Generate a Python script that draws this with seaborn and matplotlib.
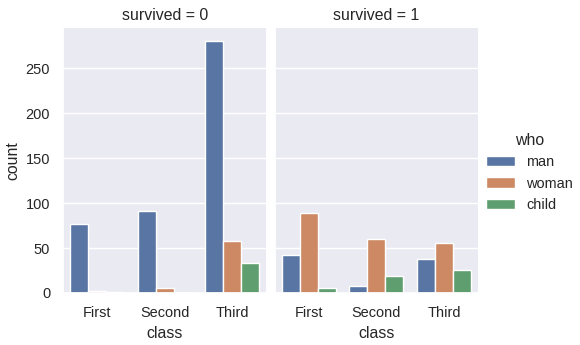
import matplotlib
matplotlib.use("Agg")
import seaborn as sns
import pandas as pd
import matplotlib.pyplot as plt

classes = ["First", "Second", "Third"]
who = ["man", "woman", "child"]
survived_vals = [0, 1]
counts_0 = {"man": [77, 91, 281], "woman": [2, 6, 58], "child": [1, 0, 33]}
counts_1 = {"man": [42, 8, 38], "woman": [89, 60, 56], "child": [5, 19, 25]}

rows = []
for s, counts in zip(survived_vals, [counts_0, counts_1]):
    for w in who:
        for c, v in zip(classes, counts[w]):
            rows.append({"survived": s, "class": c, "who": w, "count": v})
df = pd.DataFrame(rows)

sns.set_theme(style="darkgrid", font_scale=0.95)
plt.rcParams["font.family"] = ["Liberation Sans", "DejaVu Sans"]
g = sns.catplot(data=df, x="class", y="count", hue="who", col="survived",
                kind="bar", order=classes, hue_order=who, height=3, aspect=0.8,
                errorbar=None)
g.set_ylabels("count")
g.figure.set_size_inches(5.8, 3.45)
g.figure.subplots_adjust(left=0.109, right=0.824, bottom=0.151, top=0.919, wspace=0.043)
sns.move_legend(g, "center left", bbox_to_anchor=(0.815, 0.5))
g.figure.savefig("out.png", dpi=100)
